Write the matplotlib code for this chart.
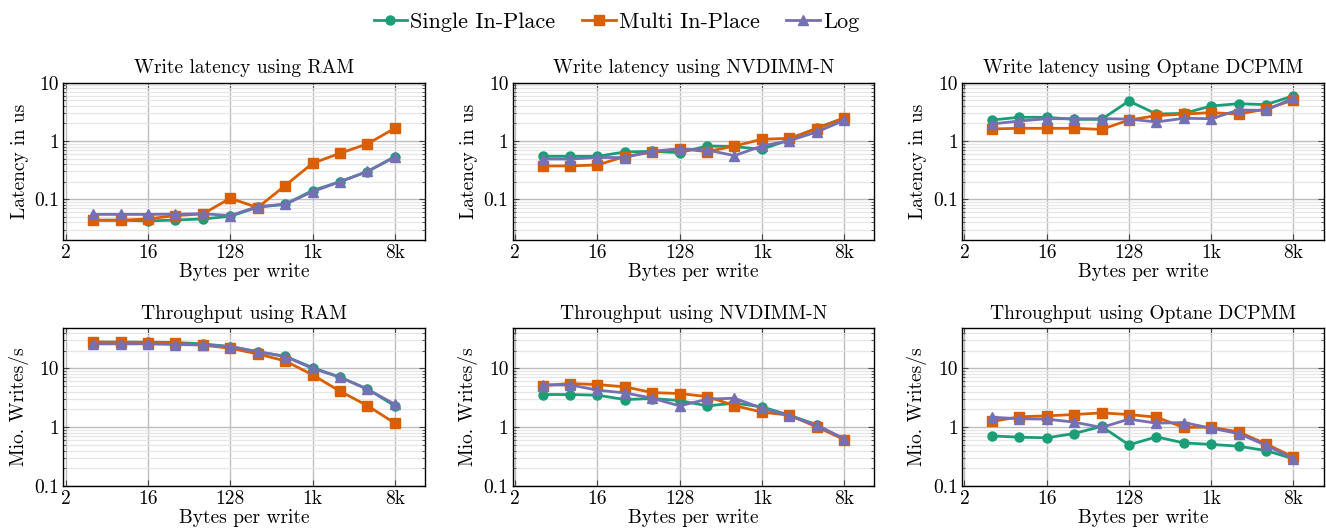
import matplotlib
matplotlib.use("Agg")
import matplotlib.pyplot as plt
from matplotlib.ticker import FixedLocator, FixedFormatter, LogLocator, NullFormatter

plt.rcParams['font.family'] = ['cmr10', 'DejaVu Serif']
plt.rcParams['axes.unicode_minus'] = False
plt.rcParams['mathtext.fontset'] = 'cm'

sizes = [4, 8, 16, 32, 64, 128, 256, 512, 1024, 2048, 4096, 8192]
series_names = ["Single In-Place", "Multi In-Place", "Log"]
colors = ["#1b9e77", "#d95f02", "#7570b3"]
markers = ["o", "s", "^"]

lat_ram_single = [0.0437, 0.0437, 0.0425, 0.0440, 0.046, 0.051, 0.073, 0.082, 0.141, 0.20, 0.298, 0.54]
lat_ram_multi = [0.0437, 0.0437, 0.046, 0.0525, 0.056, 0.104, 0.072, 0.171, 0.414, 0.615, 0.89, 1.65]
lat_ram_log = [0.055, 0.055, 0.055, 0.0555, 0.0565, 0.0525, 0.075, 0.082, 0.135, 0.20, 0.30, 0.525]

lat_nv_single = [0.546, 0.546, 0.546, 0.648, 0.665, 0.63, 0.82, 0.80, 0.72, 1.05, 1.67, 2.48]
lat_nv_multi = [0.373, 0.373, 0.388, 0.54, 0.64, 0.74, 0.656, 0.82, 1.07, 1.11, 1.63, 2.48]
lat_nv_log = [0.49, 0.49, 0.52, 0.52, 0.67, 0.73, 0.70, 0.56, 0.82, 1.01, 1.43, 2.26]

lat_op_single = [2.29, 2.55, 2.55, 2.35, 2.35, 4.85, 2.9, 2.98, 3.98, 4.37, 4.2, 5.98]
lat_op_multi = [1.61, 1.65, 1.65, 1.65, 1.58, 2.29, 2.72, 2.9, 3.06, 2.9, 3.54, 5.05]
lat_op_log = [1.96, 2.2, 2.41, 2.41, 2.41, 2.38, 2.12, 2.45, 2.41, 3.4, 3.36, 5.46]

tp_ram_single = [27.9, 27.9, 27.9, 27.5, 26.1, 23.5, 19.1, 16.1, 10.3, 7.08, 4.48, 2.3]
tp_ram_multi = [27.9, 27.9, 27.5, 26.8, 24.8, 22.0, 17.6, 13.4, 7.76, 4.09, 2.33, 1.17]
tp_ram_log = [26.1, 26.1, 26.1, 25.4, 25.0, 23.5, 19.3, 15.9, 10.0, 7.08, 4.42, 2.46]

tp_nv_single = [3.59, 3.59, 3.5, 2.95, 3.07, 2.84, 2.3, 2.56, 2.22, 1.6, 1.1, 0.617]
tp_nv_multi = [5.1, 5.52, 5.31, 4.85, 3.88, 3.73, 3.32, 2.33, 1.8, 1.6, 1.01, 0.617]
tp_nv_log = [5.24, 5.24, 4.26, 3.83, 3.11, 2.3, 2.99, 3.11, 2.1, 1.56, 1.07, 0.64]

tp_op_single = [0.71, 0.676, 0.66, 0.78, 1.03, 0.5, 0.685, 0.54, 0.51, 0.475, 0.40, 0.29]
tp_op_multi = [1.25, 1.5, 1.56, 1.64, 1.75, 1.64, 1.48, 0.99, 1.0, 0.83, 0.52, 0.31]
tp_op_log = [1.48, 1.39, 1.37, 1.22, 0.99, 1.37, 1.17, 1.2, 0.96, 0.78, 0.49, 0.29]

titles = ["Write latency using RAM", "Write latency using NVDIMM-N", "Write latency using Optane DCPMM",
          "Throughput using RAM", "Throughput using NVDIMM-N", "Throughput using Optane DCPMM"]
panels = [
    (lat_ram_single, lat_ram_multi, lat_ram_log),
    (lat_nv_single, lat_nv_multi, lat_nv_log),
    (lat_op_single, lat_op_multi, lat_op_log),
    (tp_ram_single, tp_ram_multi, tp_ram_log),
    (tp_nv_single, tp_nv_multi, tp_nv_log),
    (tp_op_single, tp_op_multi, tp_op_log),
]

xtick_vals = [2, 16, 128, 1024, 8192]
xtick_labels = ["2", "16", "128", "1k", "8k"]

fig = plt.figure(figsize=(13.26, 5.31), dpi=100)
lefts = [63.3 / 1326, 512.7 / 1326, 962 / 1326]
w = 361.5 / 1326
row_bottoms = [1 - 240 / 531, 1 - 486 / 531]
row_heights = [(240 - 82.7) / 531, (486 - 328.3) / 531]

FS = 14
handles = []
for i, (title, data) in enumerate(zip(titles, panels)):
    r, c = divmod(i, 3)
    ax = fig.add_axes([lefts[c], row_bottoms[r], w, row_heights[r]])
    ax.set_xscale('log', base=2)
    ax.set_yscale('log')
    for vals, name, col, mk in zip(data, series_names, colors, markers):
        h, = ax.plot(sizes, vals, color=col, marker=mk, markersize=6.5, linewidth=2,
                     label=name, markeredgecolor=col, zorder=3)
        if i == 0:
            handles.append(h)
    ax.set_xlim(1.88, 17500)
    if r == 0:
        ax.set_ylim(0.02, 10)
        ax.set_ylabel("Latency in us", fontsize=FS, labelpad=4)
    else:
        ax.set_ylim(0.1, 48)
        ax.set_ylabel("Mio. Writes/s", fontsize=FS, labelpad=4)
    ax.xaxis.set_major_locator(FixedLocator(xtick_vals))
    ax.xaxis.set_major_formatter(FixedFormatter(xtick_labels))
    ax.xaxis.set_minor_locator(FixedLocator([]))
    ax.yaxis.set_major_locator(FixedLocator([0.1, 1, 10]))
    ax.yaxis.set_major_formatter(FixedFormatter(["0.1", "1", "10"]))
    ax.yaxis.set_minor_locator(LogLocator(base=10, subs=range(2, 10), numticks=20))
    ax.yaxis.set_minor_formatter(NullFormatter())
    ax.tick_params(which='both', direction='in', top=True, right=True, labelsize=FS, color='#444444')
    ax.tick_params(which='major', length=4, width=0.8, pad=3)
    ax.tick_params(which='minor', length=2.5, width=0.6)
    ax.grid(True, which='major', color='#bdbdbd', linewidth=1.0, zorder=0)
    ax.grid(True, which='minor', axis='y', color='#e6e6e6', linewidth=0.9, zorder=0)
    ax.set_axisbelow(True)
    for sp in ax.spines.values():
        sp.set_linewidth(1.0)
        sp.set_color('black')
    ax.set_title(title, fontsize=FS, pad=7)
    ax.set_xlabel("Bytes per write", fontsize=FS, labelpad=1)

fig.legend(handles, series_names, loc='upper center', bbox_to_anchor=(0.465, 1.015), ncol=3,
           frameon=False, fontsize=16, handlelength=1.5, handletextpad=0.15, columnspacing=1.2)

fig.savefig("out.png", dpi=100)
